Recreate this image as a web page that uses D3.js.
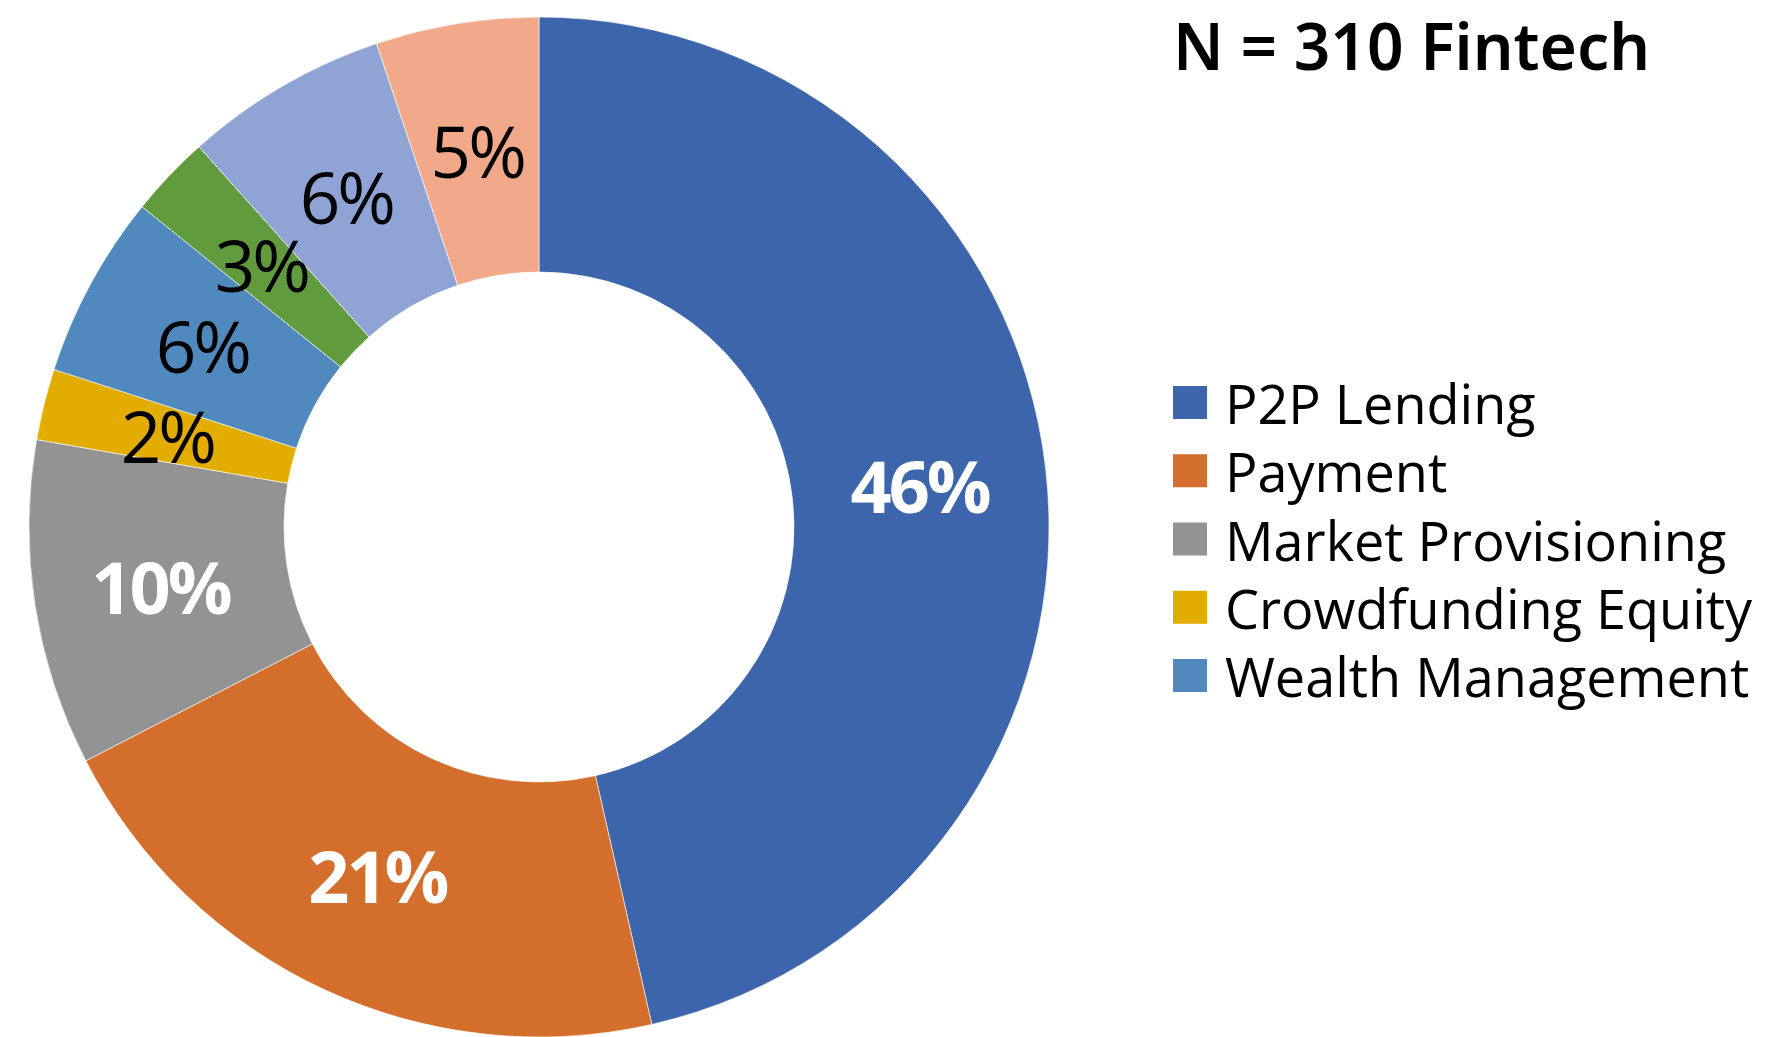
<!DOCTYPE html>
<html>
<head>
<meta charset="utf-8">
<script src="https://cdn.jsdelivr.net/npm/d3@7"></script>
<style>
  html, body { margin: 0; padding: 0; background: #ffffff; }
  svg { display: block; }
</style>
</head>
<body>
<svg id="chart" width="1768" height="1037"></svg>
<script>
// ---- data ----
const categories = ["P2P Lending", "Payment", "Market Provisioning", "Crowdfunding Equity",
                    "Wealth Management", "Segment 6", "Segment 7", "Segment 8"];
const counts = [144, 65, 32, 7, 18, 8, 20, 16];   // companies, N = 310
const legendCategories = ["P2P Lending", "Payment", "Market Provisioning", "Crowdfunding Equity", "Wealth Management"];
const colors = ["#3D65AC", "#D36E2C", "#939393", "#E3AC00", "#4F89BD", "#629B3E", "#8FA4D5", "#F1A98A"];
const boldWhiteLabels = ["P2P Lending", "Payment", "Market Provisioning"];
const titleText = "N = 310 Fintech";

// ---- layout ----
const svg = d3.select("#chart");
const cx = 539, cy = 527, outerR = 510, innerR = 255;
const total = d3.sum(counts);
const data = categories.map((c, i) => ({ cat: c, value: counts[i], color: colors[i] }));

const pie = d3.pie().value(d => d.value).sort(null);
const arc = d3.arc().innerRadius(innerR).outerRadius(outerR);
const labelArc = d3.arc().innerRadius(innerR + 128).outerRadius(innerR + 128);

const g = svg.append("g").attr("transform", `translate(${cx},${cy})`);
const arcs = pie(data);

g.selectAll("path.slice").data(arcs).join("path")
  .attr("class", "slice")
  .attr("d", arc)
  .attr("fill", d => d.data.color)
  .attr("stroke", "#ffffff")
  .attr("stroke-width", 0.6);

const fmt = v => Math.round(v / total * 100) + "%";

g.selectAll("text.lbl").data(arcs).join("text")
  .attr("class", "lbl")
  .attr("x", d => labelArc.centroid(d)[0])
  .attr("y", d => labelArc.centroid(d)[1] + 1)
  .attr("text-anchor", "middle")
  .attr("dominant-baseline", "central")
  .attr("font-family", "'Open Sans', 'Noto Sans', sans-serif")
  .attr("font-size", d => boldWhiteLabels.includes(d.data.cat) ? 72 : 71)
  .attr("font-weight", d => boldWhiteLabels.includes(d.data.cat) ? 700 : 400)
  .attr("letter-spacing", -3)
  .attr("fill", d => boldWhiteLabels.includes(d.data.cat) ? "#ffffff" : "#000000")
  .text(d => fmt(d.data.value));

// ---- title ----
svg.append("text")
  .attr("x", 1173)
  .attr("y", 70)
  .attr("font-family", "'Noto Sans', 'Open Sans', sans-serif")
  .attr("font-size", 65)
  .attr("font-weight", 600)
  .attr("fill", "#000000")
  .attr("textLength", 477)
  .attr("lengthAdjust", "spacingAndGlyphs")
  .text(titleText);

// ---- legend ----
const legendY = d3.scalePoint().domain(legendCategories).range([403, 676]);
const lg = svg.append("g");
const items = lg.selectAll("g.item").data(legendCategories).join("g")
  .attr("class", "item")
  .attr("transform", d => `translate(1173,${legendY(d)})`);
items.append("rect")
  .attr("x", 0).attr("y", -17)
  .attr("width", 34).attr("height", 33)
  .attr("fill", d => colors[categories.indexOf(d)]);
items.append("text")
  .attr("x", 52)
  .attr("y", 0)
  .attr("dominant-baseline", "central")
  .attr("font-family", "'Open Sans', 'Noto Sans', sans-serif")
  .attr("font-size", 54)
  .attr("fill", "#000000")
  .text(d => d);
</script>
</body>
</html>
